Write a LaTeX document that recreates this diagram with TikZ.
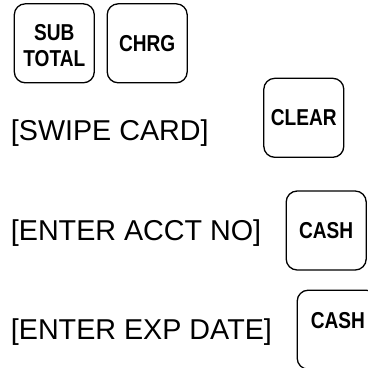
\documentclass[tikz,border=0pt]{standalone}
\usepackage{fontspec}
\setmainfont{Liberation Sans}
\newfontfamily\keyfont{Liberation Sans}[FakeStretch=0.83]
\begin{document}
\begin{tikzpicture}[x=1pt,y=-1pt,
  keyfnt/.style={font=\keyfont\bfseries\fontsize{23}{26}\selectfont},
  key/.style={draw, line width=1.3pt, rounded corners=11pt, minimum width=80pt, minimum height=79pt, inner sep=0pt, keyfnt, align=center},
  keytext/.style={inner sep=0pt, keyfnt},
  prompt/.style={inner sep=0pt, anchor=base west, font=\fontsize{28.7}{34}\selectfont}]
\useasboundingbox (0,0) rectangle (368,368);
\node[key] (subtotal) at (54.3,43.3) {};
\node[keytext, align=center] (subtotalt) at (54.3,46) {SUB\\TOTAL};
\node[key] (chrg) at (147.2,43.3) {CHRG};
\node[key] (clear) at (303.8,117.8) {CLEAR};
\node[key] (cash1) at (326.2,230.5) {CASH};
\node[key] (cash2) at (337.2,329.7) {};
\node[keytext] (cash2t) at (337.8,320.5) {CASH};
\node[prompt] (swipe) at (10.7,140) {[SWIPE CARD]};
\node[prompt] (acct) at (10.7,240) {[ENTER ACCT NO]};
\node[prompt] (exp) at (10.7,339) {[ENTER EXP DATE]};
\end{tikzpicture}
\end{document}
